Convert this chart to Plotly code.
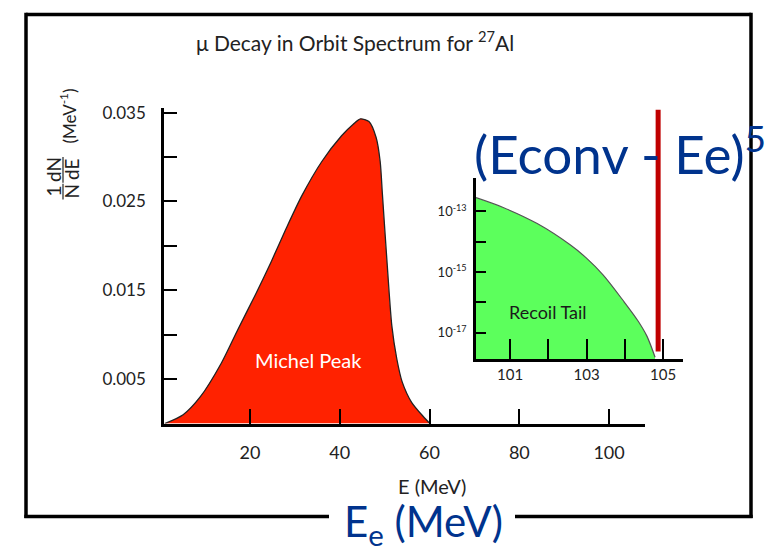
import plotly.graph_objects as go

# ---- data ----
michel_E = [1.0, 5.1, 8.9, 13.6, 17.3, 21.2, 24.7, 28.0, 31.5, 36.0, 40.4, 43.0,
            44.6, 46.5, 48.1, 49.0, 49.5, 50.5, 51.6, 52.7, 53.9, 56.0, 58.6, 60.1]
michel_rate = [0.0, 0.0010, 0.0030, 0.0068, 0.0106, 0.0145, 0.0182, 0.0219, 0.0256, 0.0295, 0.0324, 0.0337,
               0.0343, 0.0340, 0.0322, 0.0295, 0.0258, 0.0184, 0.0110, 0.0073, 0.0047, 0.0024, 0.0008, 0.0]

recoil_E = [100.11, 100.82, 101.71, 102.57, 102.99, 103.43, 103.98, 104.35, 104.58, 104.79]
recoil_rate = [2.85e-13, 1.35e-13, 3.98e-14, 7.94e-15, 2.95e-15, 8.13e-16, 1.05e-16, 2.4e-17, 7.6e-18, 1.55e-18]

main_xticks = [20, 40, 60, 80, 100]
main_yticks = [0.005, 0.010, 0.015, 0.020, 0.025, 0.030, 0.035]
main_ylabels = ["0.005", "", "0.015", "", "0.025", "", "0.035"]
inset_xticks = [101, 102, 103, 104, 105]
inset_xlabels = ["101", "", "103", "", "105"]
inset_yticks = [1e-13, 1e-14, 1e-15, 1e-16, 1e-17]
inset_ylabels = ["10<sup>-13</sup>", "", "10<sup>-15</sup>", "", "10<sup>-17</sup>"]
conv_energy = 104.87

main_xrange = [0.84, 108.0]
main_yrange = [0.0, 0.0355]
inset_xrange = [100.11, 105.52]
inset_ylogrange = [-17.88, -11.89]

W, H = 777, 549
def X(p): return p / W
def Y(p): return 1 - p / H

FONT = "Lato"
BLUE = "#00338D"
TXT = "#222222"

fig = go.Figure()

fig.add_trace(go.Scatter(
    x=michel_E, y=michel_rate, mode="lines", fill="tozeroy",
    fillcolor="#FF2200", line=dict(color="#222222", width=1.3, shape="spline", smoothing=0.7),
    xaxis="x", yaxis="y", hoverinfo="skip", showlegend=False))

base = 10 ** inset_ylogrange[0]
fig.add_trace(go.Scatter(
    x=[recoil_E[0], recoil_E[-1]], y=[base, base], mode="lines",
    line=dict(color="rgba(0,0,0,0)", width=0),
    xaxis="x2", yaxis="y2", hoverinfo="skip", showlegend=False))
fig.add_trace(go.Scatter(
    x=recoil_E, y=recoil_rate, mode="lines", fill="tonexty", fillcolor="#5CFF5C",
    line=dict(color="#555555", width=1.2, shape="spline", smoothing=0.9),
    xaxis="x2", yaxis="y2", hoverinfo="skip", showlegend=False))

fig.update_layout(
    width=W, height=H, margin=dict(l=0, r=0, t=0, b=0),
    paper_bgcolor="white", plot_bgcolor="rgba(0,0,0,0)",
    font=dict(family=FONT, color=TXT),
    xaxis=dict(domain=[X(164), X(645)], range=main_xrange, anchor="y",
               showline=True, linecolor="black", linewidth=2.5,
               ticks="inside", ticklen=15, tickwidth=2, tickcolor="black",
               tickvals=main_xticks, tickfont=dict(size=18, color=TXT, family=FONT),
               ticklabelstandoff=11, showgrid=False, zeroline=False),
    yaxis=dict(domain=[Y(422), Y(102.5)], range=main_yrange, anchor="x",
               showline=True, linecolor="black", linewidth=2.5,
               ticks="inside", ticklen=13, tickwidth=2, tickcolor="black",
               tickvals=main_yticks, ticktext=main_ylabels,
               tickfont=dict(size=17, color=TXT, family=FONT),
               ticklabelstandoff=12, showgrid=False, zeroline=False),
    xaxis2=dict(domain=[X(476), X(683)], range=inset_xrange, anchor="y2",
                showline=True, linecolor="black", linewidth=2.5,
                ticks="inside", ticklen=21, tickwidth=2, tickcolor="black",
                tickvals=inset_xticks, ticktext=inset_xlabels,
                tickfont=dict(size=15, color=TXT, family=FONT),
                ticklabelstandoff=0, showgrid=False, zeroline=False),
    yaxis2=dict(domain=[Y(357), Y(173)], type="log", range=inset_ylogrange, anchor="x2",
                showline=True, linecolor="black", linewidth=2.5,
                ticks="inside", ticklen=10, tickwidth=1.5, tickcolor="black",
                tickvals=inset_yticks, ticktext=inset_ylabels,
                tickfont=dict(size=13, color=TXT, family=FONT),
                ticklabelstandoff=4, showgrid=False, zeroline=False),
)

def pline(x0, y0, x1, y1, color="black", width=3.5):
    return dict(type="line", xref="paper", yref="paper", x0=X(x0), y0=Y(y0), x1=X(x1), y1=Y(y1),
                line=dict(color=color, width=width), layer="below")

shapes = [
    # outer frame, bottom edge broken by the blue axis caption
    pline(26, 7.5, 751, 7.5),
    pline(26, 5.8, 26, 517.7),
    pline(751, 5.8, 751, 517.7),
    pline(24.3, 516, 329, 516),
    pline(515, 516, 752.7, 516),
    dict(type="line", xref="x2", yref="paper", x0=conv_energy, x1=conv_energy, y0=Y(349), y1=Y(104),
         line=dict(color="#C00000", width=5), layer="above"),
    dict(type="line", xref="paper", yref="paper", x0=X(63), x1=X(63), y0=Y(195), y1=Y(179),
         line=dict(color=TXT, width=1.2)),
    dict(type="line", xref="paper", yref="paper", x0=X(63), x1=X(63), y0=Y(178), y1=Y(152),
         line=dict(color=TXT, width=1.2)),
]
fig.update_layout(shapes=shapes)

def ann(text, x, y, size, color=TXT, angle=0, yanchor="middle", **kw):
    return dict(text=text, x=X(x), y=Y(y), xref="paper", yref="paper", showarrow=False,
                xanchor="center", yanchor=yanchor, textangle=angle,
                font=dict(family=FONT, size=size, color=color), **kw)

annotations = [
    ann("\u03bc Decay in Orbit Spectrum for <sup>27</sup>Al", 355, 34, 21),
    ann("Michel Peak", 308, 358, 20, color="white"),
    ann("Recoil Tail", 548, 309, 18, color="#1a1a1a"),
    ann("E (MeV)", 432, 485, 20, height=22, borderpad=0),
    ann("1", 54, 187, 19, angle=-90),
    ann("N", 72, 187, 19, angle=-90),
    ann("dN", 54, 165, 19, angle=-90),
    ann("dE", 72, 165, 19, angle=-90),
    ann("(MeV<sup>-1</sup>)", 68, 111, 17, angle=-90),
    ann("(Econv - Ee)<sup>5</sup>", 620, 145, 53, color=BLUE),
    ann("E<sub>e</sub> (MeV)", 424, 524, 42, color=BLUE, height=50, borderpad=0),
]
fig.update_layout(annotations=annotations)

fig.write_html("out.html")
